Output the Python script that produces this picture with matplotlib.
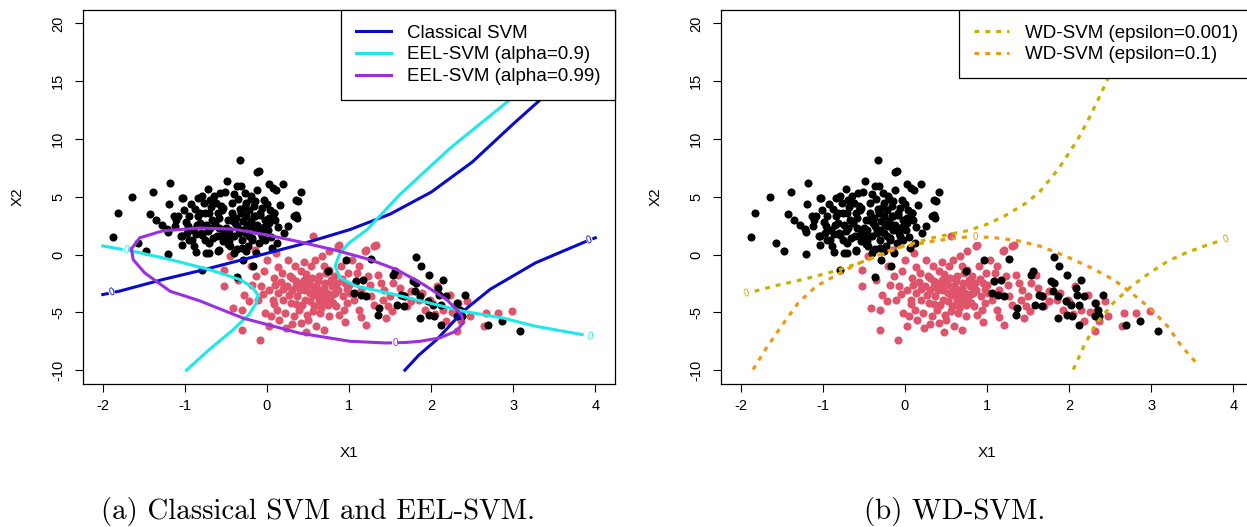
import numpy as np
import matplotlib.pyplot as plt
from matplotlib.lines import Line2D

plt.rcParams['font.family'] = ['Liberation Sans', 'DejaVu Sans']
plt.rcParams['axes.unicode_minus'] = False

# ---- sample points (same data in both panels) ----
black_pts = [
    (-1.88, 1.50), (-1.82, 3.58), (-1.64, 4.96), (-1.57, 0.98), (-1.47, 0.29), (-1.39, 5.39),
    (-1.42, 3.49), (-1.35, 3.03), (-1.28, 2.60), (-1.22, 2.22), (-1.20, 1.99), (-1.18, 6.17),
    (-1.19, 4.36), (-1.20, 0.09), (-1.13, 3.37), (-1.11, 3.03), (-1.05, 1.64), (-1.04, 0.87),
    (-1.02, 4.87), (-1.01, 3.89), (-0.98, 2.80), (-0.97, 1.87), (-0.95, 1.30), (-0.93, 4.41),
    (-0.90, 2.16), (-0.89, 0.72), (-0.86, 0.23), (-0.84, 4.93), (-0.82, 3.61), (-0.82, 2.74),
    (-0.80, 1.87), (-0.77, 4.47), (-0.75, 1.24), (-0.74, 0.14), (-0.79, -1.36), (-0.72, 5.71),
    (-0.71, 3.61), (-0.69, 2.31), (-0.67, 3.03), (-0.66, 1.44), (-0.64, 5.05), (-0.60, 3.61),
    (-0.60, 0.29), (-0.58, 2.34), (-0.56, 4.18), (-0.55, 1.73), (-0.53, 1.15), (-0.51, 5.39),
    (-0.49, 6.35), (-0.47, 3.03), (-0.46, 2.16), (-0.45, 0.72), (-0.43, 4.47), (-0.42, 3.61),
    (-0.40, 1.59), (-0.39, 2.74), (-0.37, 5.91), (-0.37, -1.93), (-0.36, 0.49), (-0.35, 4.82),
    (-0.34, 2.16), (-0.33, 8.16), (-0.32, 5.91), (-0.31, 3.61), (-0.30, 1.30), (-0.29, 2.88),
    (-0.29, -0.43), (-0.26, 4.47), (-0.25, 1.87), (-0.23, 0.72), (-0.22, 3.89), (-0.21, 2.45),
    (-0.19, 4.82), (-0.18, 1.30), (-0.17, -1.01), (-0.16, 3.32), (-0.15, 4.61), (-0.14, 2.16),
    (-0.13, 0.14), (-0.12, 7.12), (-0.10, 7.21), (-0.10, 1.01), (-0.08, 3.61), (-0.07, 1.87),
    (-0.04, 4.76), (-0.02, 3.03), (0.01, 2.16), (0.02, 6.12), (0.04, 3.89), (0.07, 5.77),
    (0.09, 3.61), (0.11, 5.62), (0.12, 1.01), (0.10, 3.03), (0.20, 6.12), (0.21, 1.87),
    (0.26, 2.45), (0.33, 3.32), (0.37, 3.17), (0.35, 4.76), (0.38, 4.61), (0.42, 5.39),
    (-1.04, 1.59), (-0.91, 1.30), (-0.85, 2.60), (-0.79, 1.73), (-0.75, 3.60), (-0.69, 4.76),
    (-0.61, 1.59), (-0.57, 5.34), (-0.55, 3.89), (-0.50, 2.31), (-0.46, 1.15), (-0.38, 3.17),
    (-0.34, 1.88), (-0.30, 0.58), (-0.28, 4.04), (-0.24, 2.60), (-0.20, 5.05), (-0.18, 1.44),
    (-0.14, 3.32), (-0.10, 2.16), (-0.06, 4.04), (-0.02, 1.30), (0.02, 2.74), (0.09, 3.60),
    (0.35, 3.46), (-1.04, 4.88), (-0.79, 5.05), (-1.08, 3.32), (-0.59, 0.41), (-0.71, 0.14),
    (-0.95, 3.30), (-0.88, 3.90), (-0.86, 1.80), (-0.72, 2.00), (-0.68, 4.10), (-0.63, 2.70),
    (-0.58, 3.20), (-0.53, 4.00), (-0.52, 2.00), (-0.48, 0.95), (-0.44, 3.00), (-0.40, 5.20),
    (-0.37, 2.45), (-0.33, 3.95), (-0.30, 2.10), (-0.27, 5.30), (-0.26, 3.30), (-0.22, 1.60),
    (-0.19, 2.90), (-0.16, 4.20), (-0.12, 2.60), (-0.09, 3.40), (-0.06, 1.60), (-0.04, 2.40),
    (0.00, 4.40), (0.03, 3.20), (0.05, 1.50), (0.14, 2.40), (0.16, 4.30), (-0.62, 4.50),
    (-0.74, 2.60), (-0.96, 2.50), (-1.12, 2.50), (-0.84, 3.30), (-0.48, 1.50), (-0.25, 0.30),
    (0.06, 0.60), (-0.12, 5.60), (-0.70, 1.00), (-0.40, 0.10),
    # second black group
    (0.96, -0.43), (1.27, -0.37), (0.74, -1.44), (1.08, -2.31), (1.17, -2.16), (1.06, -3.31),
    (1.14, -3.46), (1.21, -3.60), (1.37, -4.61), (1.35, -5.19), (1.53, -1.73), (1.56, -1.44),
    (1.63, -3.46), (1.67, -3.60), (1.59, -4.33), (1.67, -4.47), (1.82, -0.20), (1.88, -1.01),
    (1.98, -1.79), (2.14, -2.16), (1.78, -2.31), (1.82, -2.45), (1.80, -3.17), (1.86, -3.60),
    (1.96, -4.04), (2.08, -2.88), (2.10, -3.46), (2.18, -3.60), (2.12, -4.33), (2.02, -4.33),
    (1.98, -5.19), (2.04, -5.34), (2.12, -6.06), (1.86, -5.48), (2.31, -4.18), (2.41, -3.46),
    (2.31, -5.34), (2.37, -5.34), (2.35, -4.76), (2.69, -6.06), (2.86, -5.71), (3.08, -6.63),
]
red_pts = [
    (-0.52, -2.68), (-0.52, -1.36), (-0.45, -0.14), (-0.41, -4.61), (-0.30, -4.76), (-0.30, -6.55),
    (-0.22, -4.04), (-0.20, -1.01), (-0.15, 0.43), (-0.13, -1.87), (-0.11, -3.89), (-0.09, -7.41),
    (-0.07, -2.74), (-0.04, -1.44), (-0.02, -5.05), (0.00, -0.43), (0.02, -6.20), (0.03, -3.03),
    (0.07, -3.89), (0.09, -2.02), (0.11, 0.14), (0.12, -4.76), (0.13, -3.32), (0.15, -5.62),
    (0.18, -1.59), (0.20, -3.89), (0.22, -5.05), (0.23, -6.35), (0.24, -2.74), (0.26, -0.43),
    (0.28, -1.87), (0.29, -4.18), (0.31, -3.03), (0.33, -5.34), (0.34, -1.01), (0.36, -2.31),
    (0.37, -3.61), (0.39, -4.76), (0.41, -5.91), (0.42, -1.44), (0.44, -2.74), (0.46, -3.89),
    (0.49, -5.19), (0.50, -5.62), (0.51, -2.16), (0.53, -3.32), (0.54, -1.01), (0.56, 1.64),
    (0.57, -4.47), (0.60, -2.74), (0.60, -6.20), (0.62, -3.61), (0.64, -1.87), (0.65, -5.05),
    (0.66, -3.03), (0.67, -0.14), (0.68, -4.18), (0.71, -2.45), (0.73, -3.32), (0.75, -5.34),
    (0.76, -1.30), (0.77, -3.89), (0.79, -2.74), (0.82, -1.87), (0.84, -4.47), (0.86, 0.78),
    (0.87, -3.03), (0.88, -5.19), (0.90, -1.01), (0.93, -3.61), (0.95, -2.45), (0.97, -4.18),
    (0.99, -1.59), (1.01, -3.32), (1.04, -0.43), (1.06, -3.89), (1.08, -2.31), (1.12, -4.76),
    (1.12, -1.01), (1.15, -3.03), (1.19, 0.29), (1.21, -6.06), (1.23, -1.87), (1.27, -3.61),
    (1.30, 0.78), (1.35, -1.73), (1.39, -2.45), (1.41, -3.89), (1.43, -3.03), (1.47, -4.47),
    (1.50, -3.61), (1.52, -4.90), (1.54, -2.45), (1.60, -1.73), (1.68, -3.61), (1.70, -4.47),
    (1.76, -3.17), (1.82, -2.45), (1.85, -3.89), (1.89, -3.32), (1.92, -4.76), (1.99, -3.89),
    (2.01, -4.18), (2.07, -2.74), (2.14, -4.76), (2.18, -5.77), (2.23, -3.46), (2.33, -4.18),
    (2.32, -6.63), (2.36, -5.77), (2.44, -4.04), (2.47, -5.34), (2.67, -5.05), (2.65, -6.20),
    (2.81, -5.05), (2.98, -4.90), (2.34, -4.76), (0.76, 0.29), (0.88, 0.87), (1.21, 0.43),
    (1.33, 0.87), (0.45, -2.20), (0.58, -3.00), (0.70, -3.70), (0.52, -4.00), (0.40, -3.10),
    (0.62, -2.30), (0.80, -3.40), (0.35, -2.70), (0.66, -4.60), (0.48, -1.70),
    (0.30, -2.00), (0.38, -2.50), (0.46, -3.10), (0.55, -2.00), (0.57, -3.50), (0.63, -4.00),
    (0.69, -2.90), (0.72, -1.60), (0.78, -2.20), (0.83, -3.30), (0.85, -2.50), (0.92, -2.10),
    (0.94, -4.80), (0.98, -3.00), (0.52, -2.60), (0.61, -3.20), (0.69, -3.60), (0.74, -4.40),
    (0.43, -4.40), (0.27, -3.50), (0.17, -2.40), (0.08, -4.30), (-0.05, -3.40), (-0.18, -2.60),
    (-0.28, -3.50), (-0.35, -2.20), (0.14, -1.10), (0.45, -0.60), (0.58, -0.50), (0.70, -1.00),
    (1.10, -1.60), (1.25, -2.60), (1.30, -4.40), (1.15, -5.40), (0.95, -5.80), (0.70, -6.50),
    (0.48, -6.70), (0.30, -6.00), (1.45, -5.50), (1.62, -2.90), (1.75, -4.00), (2.05, -5.10),
    (2.25, -5.00), (0.05, -5.30), (0.36, -4.30), (0.56, -4.90), (0.80, -4.20), (1.00, -2.60),
    (0.20, -3.00), (0.10, -2.60),
]
black_x = [p[0] for p in black_pts]
black_y = [p[1] for p in black_pts]
red_x = [p[0] for p in red_pts]
red_y = [p[1] for p in red_pts]

# ---- zero contours ----
svm_up_x = [-2.00, -1.80, -1.27, -0.82, -0.30, 0.40, 1.01, 1.50, 2.00, 2.50, 3.00, 3.33, 3.70, 4.00]
svm_up_y = [-3.46, -3.17, -2.16, -1.40, -0.45, 0.86, 2.16, 3.50, 5.40, 8.00, 11.3, 13.4, 16.5, 19.5]
svm_lo_x = [1.68, 1.85, 2.07, 2.39, 2.72, 3.27, 3.86, 4.00]
svm_lo_y = [-10.0, -8.70, -7.35, -4.90, -3.00, -0.72, 1.06, 1.45]

eel9_a_x = [-2.00, -1.75, -1.63, -1.18, -0.70, -0.33, -0.18, -0.11, -0.13, -0.22, -0.41, -0.70, -0.98]
eel9_a_y = [0.75, 0.43, 0.29, -0.43, -1.30, -2.16, -2.80, -3.50, -4.20, -5.20, -6.49, -8.20, -10.0]
eel9_b_x = [3.50, 2.96, 2.23, 1.62, 1.22, 1.00, 0.89, 0.83, 0.89, 1.09, 1.46, 1.87, 2.39, 2.88, 3.27, 3.84]
eel9_b_y = [17.0, 13.4, 9.20, 5.20, 2.16, 1.00, 0.14, -1.00, -2.00, -2.74, -3.30, -4.00, -4.90, -5.50, -6.20, -6.92]

eel99_x = [-1.65, -1.55, -1.27, -0.82, -0.41, 0.00, 0.40, 0.85, 1.26, 1.58, 1.91, 2.19, 2.37,
           2.39, 2.31, 2.11, 1.87, 1.70, 1.45, 1.01, 0.40, -0.29, -0.82, -1.18, -1.49, -1.63, -1.65]
eel99_y = [0.50, 1.45, 2.05, 2.30, 2.20, 1.70, 1.10, 0.35, -0.45, -1.30, -2.60, -3.90, -5.20,
           -5.90, -6.60, -7.20, -7.50, -7.60, -7.65, -7.50, -6.80, -5.50, -4.00, -3.17, -1.58, -0.43, 0.50]

wd001_a_x = [-1.83, -1.57, -1.21, -0.86, -0.55, -0.29, -0.02, 0.33, 0.77, 0.99, 1.21, 1.48, 1.65,
             1.87, 2.10, 2.23, 2.36, 2.51, 2.70]
wd001_a_y = [-3.17, -2.68, -2.10, -1.44, -0.72, 0.00, 0.72, 1.44, 2.08, 2.60, 3.32, 4.47, 5.50,
             7.40, 9.90, 11.6, 13.5, 15.8, 18.5]
wd001_b_x = [2.05, 2.18, 2.32, 2.54, 2.76, 2.98, 3.20, 3.42, 3.64, 3.82]
wd001_b_y = [-9.95, -7.93, -6.06, -4.18, -2.74, -1.59, -0.58, 0.14, 0.72, 1.15]

wd01_x = [-1.85, -1.70, -1.52, -1.30, -1.08, -0.86, -0.60, -0.11, 0.33, 0.68, 1.04, 1.35, 1.65,
          1.96, 2.27, 2.54, 2.76, 2.98, 3.20, 3.37, 3.57]
wd01_y = [-9.95, -8.22, -6.35, -4.18, -2.74, -1.87, -0.87, 0.58, 1.15, 1.50, 1.50, 1.24, 0.72,
          -0.14, -1.15, -2.16, -3.32, -4.61, -6.20, -7.93, -9.52]

c_svm = '#0A0ACD'
c_eel9 = '#1EE8E8'
c_eel99 = '#9B30E0'
c_wd001 = '#C9B000'
c_wd01 = '#EE9A10'
c_red = '#DF536B'
dots = (0, (1.5, 1.9))

fig = plt.figure(figsize=(12.47, 5.27), dpi=100)
ax1 = fig.add_axes([0.0666, 0.2713, 0.4266, 0.7106])
ax2 = fig.add_axes([0.5782, 0.2713, 0.4266, 0.7106])


def base(ax):
    ax.scatter(red_x, red_y, s=34, c=c_red, linewidths=0, zorder=2)
    ax.scatter(black_x, black_y, s=34, c='black', linewidths=0, zorder=2)
    ax.set_xlim(-2.24, 4.24)
    ax.set_ylim(-11.2, 21.2)
    ax.set_xticks(range(-2, 5))
    ax.set_yticks([-10, -5, 0, 5, 10, 15, 20])
    ax.tick_params(direction='out', length=6, width=0.8, labelsize=10.5, pad=5)
    ax.tick_params(axis='y', pad=7)
    for lab in ax.get_yticklabels():
        lab.set_rotation(90)
        lab.set_va('center')
    for sp in ax.spines.values():
        sp.set_linewidth(0.9)
    ax.set_xlabel('X1', fontsize=11)
    ax.set_ylabel('X2', fontsize=11)
    ax.xaxis.set_label_coords(0.5, -0.165)
    ax.yaxis.set_label_coords(-0.11, 0.5)


def zero(ax, x, y, col, rot=0):
    ax.text(x, y, '0', color=col, fontsize=7, ha='center', va='center', rotation=rot, zorder=4,
            bbox=dict(fc='white', ec='none', pad=0.3))


leg_kw = dict(loc='upper right', borderaxespad=0, fancybox=False, edgecolor='black',
              framealpha=1, fontsize=13.5, handlelength=1.85, handletextpad=0.85,
              borderpad=0.8, labelspacing=0.25)

# panel (a)
base(ax1)
ax1.plot(svm_up_x, svm_up_y, color=c_svm, lw=2.2, zorder=3)
ax1.plot(svm_lo_x, svm_lo_y, color=c_svm, lw=2.2, zorder=3)
ax1.plot(eel9_a_x, eel9_a_y, color=c_eel9, lw=2.2, zorder=3)
ax1.plot(eel9_b_x, eel9_b_y, color=c_eel9, lw=2.2, zorder=3)
ax1.plot(eel99_x, eel99_y, color=c_eel99, lw=2.2, zorder=3)
zero(ax1, -1.89, -3.3, c_svm, 20)
zero(ax1, 3.93, 1.22, c_svm, 20)
zero(ax1, -1.72, 0.37, c_eel9, -15)
zero(ax1, 3.93, -7.07, c_eel9, -10)
zero(ax1, 1.56, -7.64, c_eel99, 0)
h1 = [Line2D([], [], color=c_svm, lw=2.2), Line2D([], [], color=c_eel9, lw=2.2),
      Line2D([], [], color=c_eel99, lw=2.2)]
leg1 = ax1.legend(h1, ['Classical SVM', 'EEL-SVM (alpha=0.9)', 'EEL-SVM (alpha=0.99)'], **leg_kw)
leg1.get_frame().set_linewidth(0.9)

# panel (b)
base(ax2)
ax2.plot(wd001_a_x, wd001_a_y, color=c_wd001, lw=2.3, ls=dots, zorder=3)
ax2.plot(wd001_b_x, wd001_b_y, color=c_wd001, lw=2.3, ls=dots, zorder=3)
ax2.plot(wd01_x, wd01_y, color=c_wd01, lw=2.3, ls=dots, zorder=3)
zero(ax2, -1.93, -3.32, c_wd001, 15)
zero(ax2, 3.91, 1.36, c_wd001, 20)
zero(ax2, 0.86, 1.53, c_wd01, 0)
h2 = [Line2D([], [], color=c_wd001, lw=2.3, ls=dots), Line2D([], [], color=c_wd01, lw=2.3, ls=dots)]
leg2 = ax2.legend(h2, ['WD-SVM (epsilon=0.001)', 'WD-SVM (epsilon=0.1)'], **leg_kw)
leg2.get_frame().set_linewidth(0.9)

fig.text(318 / 1247, 1 - 512 / 527, '(a) Classical SVM and EEL-SVM.', ha='center', va='center',
         family='cmr10', fontsize=20.8)
fig.text(955 / 1247, 1 - 512 / 527, '(b) WD-SVM.', ha='center', va='center',
         family='cmr10', fontsize=20.8)

fig.savefig('out.png', dpi=100)
